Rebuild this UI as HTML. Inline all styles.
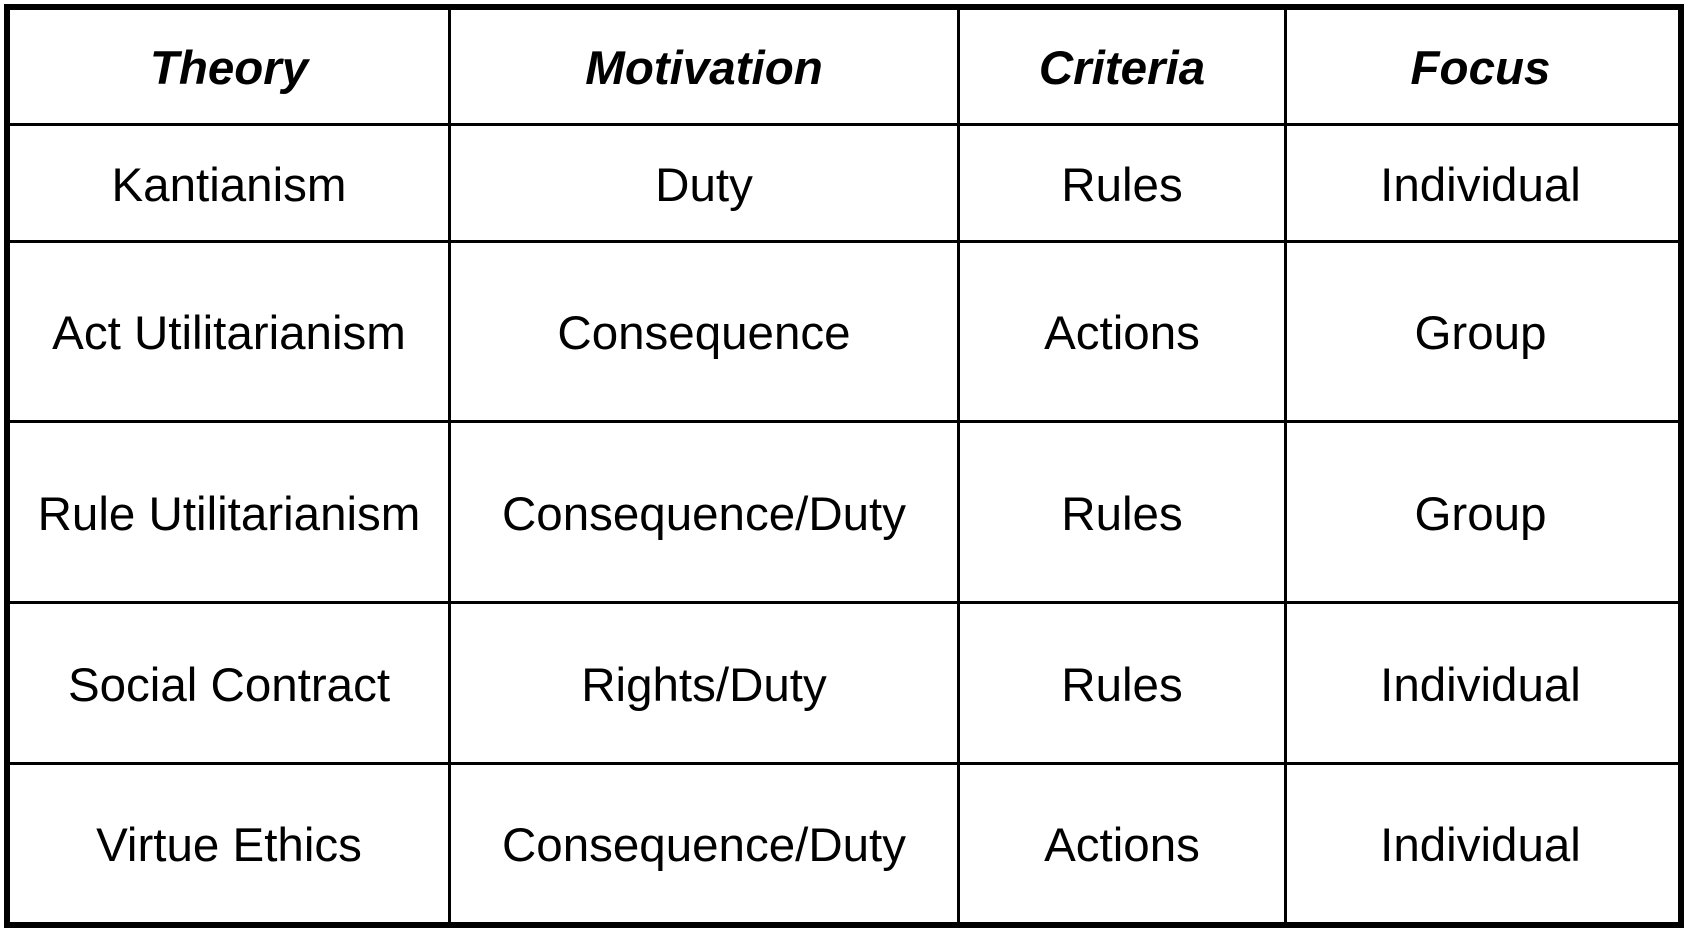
<!DOCTYPE html>
<html><head><meta charset="utf-8"><style>
html,body{margin:0;padding:0;background:#fff;}
#w{position:relative;width:1688px;height:932px;overflow:hidden;background:#fff;font-family:"Liberation Sans",Arial,sans-serif;color:#000;}
.h{position:absolute;left:4px;width:1680px;height:3px;background:#000;}
.v{position:absolute;top:4px;height:924px;width:3px;background:#000;}
.c{position:absolute;display:flex;align-items:center;justify-content:center;font-size:47.5px;white-space:nowrap;padding-top:4px;box-sizing:border-box;}
.b{font-weight:bold;font-style:italic;}
</style></head><body><div id="w">
<div style="position:absolute;left:4px;top:4px;width:1680px;height:924px;border:6px solid #000;box-sizing:border-box;"></div>
<div class="h" style="top:123px"></div>
<div class="h" style="top:240px"></div>
<div class="h" style="top:420px"></div>
<div class="h" style="top:601px"></div>
<div class="h" style="top:762px"></div>
<div class="v" style="left:448px"></div>
<div class="v" style="left:957px"></div>
<div class="v" style="left:1284px"></div>

<div class="c b" style="left:10px;width:438px;top:10px;height:113px">Theory</div>
<div class="c b" style="left:451px;width:506px;top:10px;height:113px">Motivation</div>
<div class="c b" style="left:960px;width:324px;top:10px;height:113px">Criteria</div>
<div class="c b" style="left:1287px;width:387px;top:10px;height:113px">Focus</div>

<div class="c" style="left:10px;width:438px;top:126px;height:114px">Kantianism</div>
<div class="c" style="left:451px;width:506px;top:126px;height:114px">Duty</div>
<div class="c" style="left:960px;width:324px;top:126px;height:114px">Rules</div>
<div class="c" style="left:1287px;width:387px;top:126px;height:114px">Individual</div>

<div class="c" style="left:10px;width:438px;top:243px;height:177px">Act Utilitarianism</div>
<div class="c" style="left:451px;width:506px;top:243px;height:177px">Consequence</div>
<div class="c" style="left:960px;width:324px;top:243px;height:177px">Actions</div>
<div class="c" style="left:1287px;width:387px;top:243px;height:177px">Group</div>

<div class="c" style="left:10px;width:438px;top:423px;height:178px">Rule Utilitarianism</div>
<div class="c" style="left:451px;width:506px;top:423px;height:178px">Consequence/Duty</div>
<div class="c" style="left:960px;width:324px;top:423px;height:178px">Rules</div>
<div class="c" style="left:1287px;width:387px;top:423px;height:178px">Group</div>

<div class="c" style="left:10px;width:438px;top:604px;height:158px">Social Contract</div>
<div class="c" style="left:451px;width:506px;top:604px;height:158px">Rights/Duty</div>
<div class="c" style="left:960px;width:324px;top:604px;height:158px">Rules</div>
<div class="c" style="left:1287px;width:387px;top:604px;height:158px">Individual</div>

<div class="c" style="left:10px;width:438px;top:765px;height:157px">Virtue Ethics</div>
<div class="c" style="left:451px;width:506px;top:765px;height:157px">Consequence/Duty</div>
<div class="c" style="left:960px;width:324px;top:765px;height:157px">Actions</div>
<div class="c" style="left:1287px;width:387px;top:765px;height:157px">Individual</div>
</div></body></html>
